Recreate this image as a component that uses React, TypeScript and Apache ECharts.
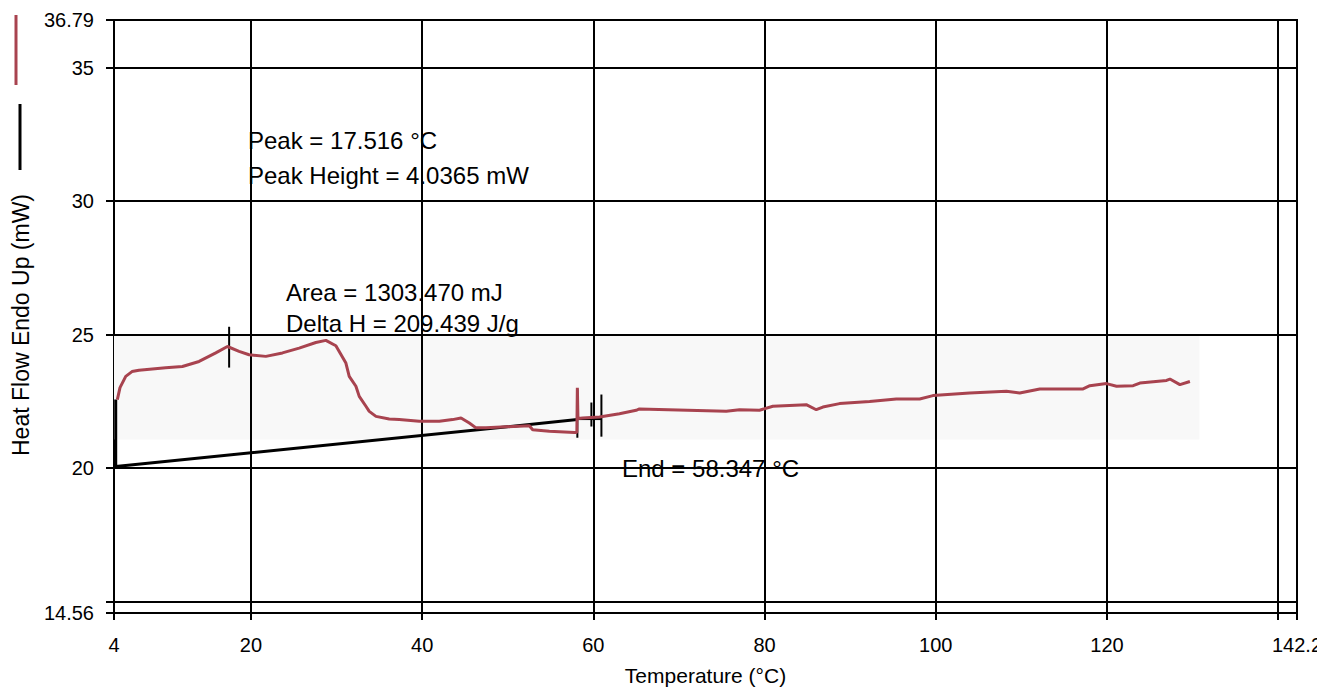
import React, { useEffect, useRef } from "react";
import * as echarts from "echarts";

// Axis ticks / labels
const xLabelValues = [4, 20, 40, 60, 80, 100, 120, 142.2];
const xTickValues = [4, 20, 40, 60, 80, 100, 120, 140, 142.2];
const xGridValues = [20, 40, 60, 80, 100, 120, 140];
const yLabelValues = [14.56, 20, 25, 30, 35, 36.79];
const yTickValues = [14.56, 15, 20, 25, 30, 35, 36.79];
const yGridValues = [15, 20, 25, 30, 35];

// Heat flow curve (red)
const heatTemp = [
  4.39, 4.7, 5.37, 6.1, 6.92, 10.04, 11.99, 13.94, 15.89, 17.25, 18.61, 19.78,
  21.74, 23.68, 25.63, 27.58, 28.75, 29.92, 31.09, 31.48, 32.26, 32.65, 33.43,
  33.82, 34.6, 36.15, 37.32, 39.66, 42.0, 43.55, 44.54, 45.51, 46.29, 47.46,
  49.8, 52.52, 52.91, 54.86, 57.78, 58.07, 58.13, 58.2, 58.75, 60.71, 63.05,
  65.0, 65.38, 75.52, 77.07, 79.41, 80.97, 84.87, 86.04, 86.81, 88.76, 92.27,
  95.39, 98.12, 99.67, 103.96, 108.25, 109.81, 112.15, 117.21, 118.0, 119.95,
  121.12, 123.06, 123.84, 126.96, 127.35, 128.52, 129.69,
];
const heatFlow = [
  22.56, 23.01, 23.43, 23.61, 23.66, 23.75, 23.8, 23.99, 24.31, 24.55, 24.37,
  24.24, 24.18, 24.31, 24.49, 24.7, 24.78, 24.58, 23.93, 23.43, 23.06, 22.68,
  22.31, 22.12, 21.93, 21.83, 21.81, 21.75, 21.75, 21.81, 21.87, 21.68, 21.5,
  21.5, 21.54, 21.58, 21.43, 21.37, 21.33, 21.33, 23.0, 21.85, 21.87, 21.91,
  22.03, 22.16, 22.21, 22.12, 22.18, 22.16, 22.31, 22.37, 22.18, 22.28, 22.41,
  22.49, 22.58, 22.58, 22.71, 22.81, 22.87, 22.81, 22.96, 22.96, 23.08, 23.16,
  23.06, 23.08, 23.18, 23.28, 23.33, 23.12, 23.24,
];

// Integration baseline (black)
const baseTemp = [4.2, 4.2, 58.13];
const baseFlow = [22.56, 20.05, 21.81];
const baseTailTemp = [58.13, 60.9];
const baseTailFlow = [21.83, 21.83];

// Peak / end markers
const peakMarkTemp = [17.45, 17.45];
const peakMarkFlow = [25.29, 23.76];
const endMark1Temp = [58.13, 58.13];
const endMark1Flow = [22.95, 21.13];
const endMark2Temp = [59.77, 59.77];
const endMark2Flow = [22.45, 21.55];
const endMark3Temp = [60.94, 60.94];
const endMark3Flow = [22.75, 21.17];

// Light shaded band
const bandTemp = [4, 130.8];
const bandFlow = [25, 21.06];

const annotations = [
  { text: "Peak = 17.516 °C", x: 248, y: 140 },
  { text: "Peak Height = 4.0365 mW", x: 248, y: 175 },
  { text: "Area = 1303.470 mJ", x: 286, y: 292 },
  { text: "Delta H = 209.439 J/g", x: 286, y: 323 },
  { text: "End = 58.347 °C", x: 622, y: 468 },
];

const FONT = "'Liberation Sans', Arial, sans-serif";
const RED = "#a8434f";

const zip = (a: number[], b: number[]) => a.map((v, i) => [v, b[i]]);

export default function App() {
  const ref = useRef<HTMLDivElement>(null);
  useEffect(() => {
    document.body.style.margin = "0";
    if (!ref.current) return;
    const chart = echarts.init(ref.current, null, { renderer: "svg" });
    const blackLine = (name: string, t: number[], f: number[], w: number) => ({
      name,
      type: "line",
      data: zip(t, f),
      showSymbol: false,
      symbol: "none",
      lineStyle: { color: "#000", width: w },
      z: 4,
      silent: true,
    });
    chart.setOption({
      animation: false,
      backgroundColor: "#fff",
      grid: {
        left: 114,
        top: 20,
        width: 1183,
        height: 593,
        outerBoundsMode: "none",
        containLabel: false,
        show: true,
        borderColor: "#000",
        borderWidth: 2,
        backgroundColor: "transparent",
      },
      xAxis: {
        type: "value",
        min: 4,
        max: 142.2,
        name: "Temperature (°C)",
        nameLocation: "middle",
        nameGap: 52,
        nameTextStyle: { color: "#000", fontSize: 21, fontFamily: FONT },
        axisLine: { show: true, lineStyle: { color: "#000", width: 2 } },
        axisTick: {
          show: true,
          inside: false,
          length: 7,
          customValues: xTickValues,
          lineStyle: { color: "#000", width: 2 },
        },
        axisLabel: {
          customValues: xLabelValues,
          color: "#000",
          fontSize: 20,
          fontFamily: FONT,
          margin: 22,
          formatter: (v: number) => String(v),
        },
        splitLine: { show: false },
      },
      yAxis: {
        type: "value",
        min: 14.56,
        max: 36.79,
        axisLine: { show: true, lineStyle: { color: "#000", width: 2 } },
        axisTick: {
          show: true,
          inside: false,
          length: 8,
          customValues: yTickValues,
          lineStyle: { color: "#000", width: 2 },
        },
        axisLabel: {
          customValues: yLabelValues,
          color: "#000",
          fontSize: 20,
          fontFamily: FONT,
          margin: 20,
          formatter: (v: number) => String(v),
        },
        splitLine: { show: false },
      },
      series: [
        {
          name: "gridlines",
          type: "line",
          data: [[4, 14.56]],
          showSymbol: false,
          symbol: "none",
          lineStyle: { width: 0, opacity: 0 },
          z: 1,
          silent: true,
          markArea: {
            silent: true,
            itemStyle: { color: "#f8f8f8" },
            data: [[{ coord: [bandTemp[0], bandFlow[0]] }, { coord: [bandTemp[1], bandFlow[1]] }]],
          },
          markLine: {
            silent: true,
            symbol: ["none", "none"],
            label: { show: false },
            lineStyle: { color: "#000", width: 2, type: "solid" },
            data: [
              ...xGridValues.map((v) => ({ xAxis: v })),
              ...yGridValues.map((v) => ({ yAxis: v })),
            ],
          },
        },
        blackLine("baseline", baseTemp, baseFlow, 3),
        blackLine("baselineTail", baseTailTemp, baseTailFlow, 2),
        {
          name: "Heat Flow",
          type: "line",
          data: zip(heatTemp, heatFlow),
          showSymbol: false,
          symbol: "none",
          lineStyle: { color: RED, width: 3 },
          z: 5,
          silent: true,
        },
        blackLine("peakMark", peakMarkTemp, peakMarkFlow, 2),
        blackLine("endMark1", endMark1Temp, endMark1Flow, 2),
        blackLine("endMark2", endMark2Temp, endMark2Flow, 2),
        blackLine("endMark3", endMark3Temp, endMark3Flow, 2),
      ],
      graphic: [
        {
          type: "line",
          shape: { x1: 16, y1: 15, x2: 16, y2: 85 },
          style: { stroke: RED, lineWidth: 3 },
        },
        {
          type: "line",
          shape: { x1: 20, y1: 104, x2: 20, y2: 170 },
          style: { stroke: "#000", lineWidth: 3 },
        },
        {
          type: "text",
          x: 21,
          y: 325,
          rotation: Math.PI / 2,
          style: {
            text: "Heat Flow Endo Up (mW)",
            fill: "#000",
            font: `23px ${FONT}`,
            textAlign: "center",
            textVerticalAlign: "middle",
          },
        },
        ...annotations.map((a) => ({
          type: "text",
          x: a.x,
          y: a.y,
          z: 10,
          style: {
            text: a.text,
            fill: "#000",
            font: `24px ${FONT}`,
            textAlign: "left",
            textVerticalAlign: "middle",
          },
        })),
      ],
    });
    return () => chart.dispose();
  }, []);
  return (
    <div
      ref={ref}
      style={{ width: 1317, height: 690, position: "absolute", left: 0, top: 0, overflow: "hidden" }}
    />
  );
}
